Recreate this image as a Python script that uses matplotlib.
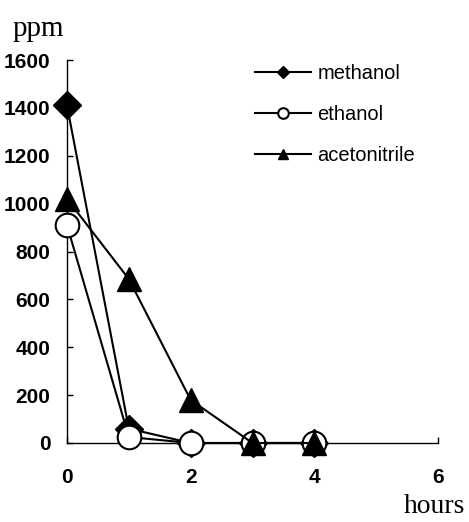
import matplotlib
matplotlib.use('Agg')
import matplotlib.pyplot as plt

# hours after start
hours = [0, 1, 2, 3, 4]
methanol = [1410, 60, 0, 0, 0]
ethanol = [910, 25, 0, 0, 0]
acetonitrile = [1020, 685, 180, 0, 0]

x_ticks = [0, 2, 4, 6]
y_ticks = [0, 200, 400, 600, 800, 1000, 1200, 1400, 1600]

plt.rcParams['font.family'] = ['Liberation Sans', 'DejaVu Sans']

fig = plt.figure(figsize=(4.69, 5.22), dpi=100)
ax = fig.add_axes([67 / 469, 1 - 443 / 522, 371 / 469, 383 / 522])

ax.plot(hours, methanol, color='black', lw=1.5, marker='D', ms=14,
        mfc='black', mec='black', label='methanol', zorder=3, clip_on=False)
ax.plot(hours, ethanol, color='black', lw=1.5, marker='o', ms=17,
        mfc='white', mec='black', mew=1.5, label='ethanol', zorder=4,
        clip_on=False)
ax.plot(hours, acetonitrile, color='black', lw=1.5, marker='^', ms=17,
        mfc='black', mec='black', label='acetonitrile', zorder=5,
        clip_on=False)

ax.set_xlim(0, 6)
ax.set_ylim(0, 1600)
ax.set_xticks(x_ticks)
ax.set_yticks(y_ticks)
ax.tick_params(direction='in', length=4, width=1, labelsize=15)
ax.tick_params(axis='x', pad=18)
ax.tick_params(axis='y', pad=12)
for lab in ax.get_xticklabels() + ax.get_yticklabels():
    lab.set_fontweight('bold')
for s in ['top', 'right']:
    ax.spines[s].set_visible(False)
for s in ['left', 'bottom']:
    ax.spines[s].set_linewidth(1)

fig.text(13 / 469, 1 - 36 / 522, 'ppm', family='Liberation Serif', fontsize=21)
fig.text(465 / 469, 1 - 513 / 522, 'hours', family='Liberation Serif',
         fontsize=20, ha='right')

leg = ax.legend(loc='upper left', bbox_to_anchor=(255 / 469, 1 - 64 / 522),
                bbox_transform=fig.transFigure, frameon=False, fontsize=14.5,
                handlelength=2.8, handletextpad=0.3, labelspacing=1.1,
                borderpad=0, borderaxespad=0, markerscale=0.45)

fig.savefig('out.png', dpi=100)
